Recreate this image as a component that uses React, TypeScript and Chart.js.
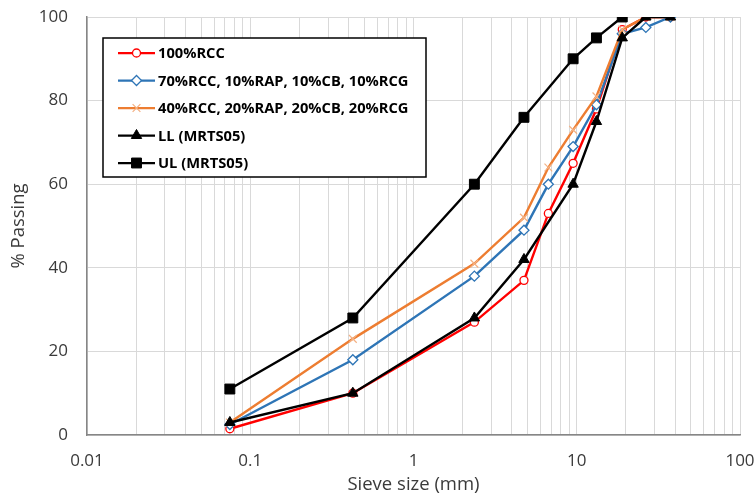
import React, { useEffect, useRef } from 'react';
import { Chart, registerables } from 'chart.js';
import { drawPoint } from 'chart.js/helpers';

Chart.register(...registerables);

const seriesLabels = [
  '100%RCC',
  '70%RCC, 10%RAP, 10%CB, 10%RCG',
  '40%RCC, 20%RAP, 20%CB, 20%RCG',
  'LL (MRTS05)',
  'UL (MRTS05)',
];
const mixSieves = [0.075, 0.425, 2.36, 4.75, 6.7, 9.5, 13.2, 19, 26.5, 37.5];
const rcc100 = [1.5, 10, 27, 37, 53, 65, 78, 97, 100, 100];
const rcc70 = [2.5, 18, 38, 49, 60, 69, 79, 96, 97.5, 100];
const rcc40 = [3, 23, 41, 52, 64, 73, 81, 97, 100, 100];
const llSieves = [0.075, 0.425, 2.36, 4.75, 9.5, 13.2, 19, 26.5, 37.5];
const llValues = [3, 10, 28, 42, 60, 75, 95, 100, 100];
const ulSieves = [0.075, 0.425, 2.36, 4.75, 9.5, 13.2, 19];
const ulValues = [11, 28, 60, 76, 90, 95, 100];
const xDecades = [0.01, 0.1, 1, 10, 100];
const xDecadeLabels = ['0.01', '0.1', '1', '10', '100'];
const xMinorMultipliers = [2, 3, 4, 5, 6, 7, 8, 9];
const yTicks = [0, 20, 40, 60, 80, 100];

const FONT = '"Open Sans", "Liberation Sans", sans-serif';
const TEXT = '#3A3A3A';
const GRID = '#D9D9D9';
const AXIS = '#868686';

const colors = ['#FF0000', '#2E75B6', '#ED7D31', '#000000', '#000000'];
const pointStyles = ['circle', 'rectRot', 'crossRot', 'triangle', 'rect'];
const pointRadii = [4, 5, 5.5, 6, 7];
const pointFills = ['#FFFFFF', '#FFFFFF', '#F4B183', '#000000', '#000000'];
const pointBorders = ['#FF0000', '#2E75B6', '#F4B183', '#000000', '#000000'];
const pointBorderWidths = [1.3, 1.3, 1.2, 1, 1];

function buildXTicks(): number[] {
  const out: number[] = [];
  xDecades.forEach((d, i) => {
    out.push(d);
    if (i < xDecades.length - 1) xMinorMultipliers.forEach((m) => out.push(+(m * d).toPrecision(6)));
  });
  return out;
}

const boxLegend = {
  id: 'boxLegend',
  afterDatasetsDraw(chart: any) {
    const ctx = chart.ctx as CanvasRenderingContext2D;
    const area = chart.chartArea;
    const left = area.left + 16;
    const top = area.top + 21;
    const w = 323;
    const h = 139;
    ctx.save();
    ctx.fillStyle = '#FFFFFF';
    ctx.fillRect(left, top, w, h);
    ctx.strokeStyle = '#000000';
    ctx.lineWidth = 1.5;
    ctx.strokeRect(left, top, w, h);
    seriesLabels.forEach((label, i) => {
      const y = top + 15 + i * 27.5;
      const x1 = left + 15;
      const x2 = left + 52;
      ctx.strokeStyle = colors[i];
      ctx.lineWidth = 2.25;
      ctx.beginPath();
      ctx.moveTo(x1, y);
      ctx.lineTo(x2, y);
      ctx.stroke();
      ctx.fillStyle = pointFills[i];
      ctx.strokeStyle = pointBorders[i];
      ctx.lineWidth = pointBorderWidths[i];
      drawPoint(ctx, { pointStyle: pointStyles[i], radius: pointRadii[i], rotation: 0, borderWidth: pointBorderWidths[i] } as any, (x1 + x2) / 2, y);
      ctx.fillStyle = '#000000';
      ctx.font = `bold 14.7px ${FONT}`;
      ctx.textBaseline = 'middle';
      ctx.textAlign = 'left';
      ctx.fillText(label, x2 + 3, y + 1);
    });
    ctx.restore();
  },
};

export default function App() {
  const ref = useRef<HTMLCanvasElement | null>(null);
  useEffect(() => {
    if (!ref.current) return;
    const xTicks = buildXTicks();
    const sets = [
      { x: mixSieves, y: rcc100 },
      { x: mixSieves, y: rcc70 },
      { x: mixSieves, y: rcc40 },
      { x: llSieves, y: llValues },
      { x: ulSieves, y: ulValues },
    ];
    const datasets = sets.map((s, i) => ({
      label: seriesLabels[i],
      data: s.x.map((xv, j) => ({ x: xv, y: s.y[j] })),
      borderColor: colors[i],
      borderWidth: 2.4,
      backgroundColor: colors[i],
      pointStyle: pointStyles[i],
      pointRadius: pointRadii[i],
      pointBackgroundColor: pointFills[i],
      pointBorderColor: pointBorders[i],
      pointBorderWidth: pointBorderWidths[i],
      tension: 0,
      fill: false,
      order: 5 - i,
    }));
    const chart = new Chart(ref.current, {
      type: 'line',
      data: { datasets },
      plugins: [boxLegend],
      options: {
        responsive: false,
        animation: false,
        devicePixelRatio: 1,
        layout: { padding: { top: 17, right: 16, left: 0, bottom: 0 } },
        plugins: { legend: { display: false }, tooltip: { enabled: false } },
        scales: {
          x: {
            type: 'logarithmic',
            min: 0.01,
            max: 100,
            afterBuildTicks: (scale: any) => {
              scale.ticks = xTicks.map((v) => ({ value: v }));
            },
            afterFit: (scale: any) => {
              scale.height = 61;
              scale.paddingLeft = 0;
              scale.paddingRight = 0;
            },
            ticks: {
              autoSkip: false,
              maxRotation: 0,
              padding: 16,
              color: TEXT,
              font: { family: FONT, size: 17 },
              callback: (value: any) => {
                const idx = xDecades.findIndex((d) => Math.abs(d - Number(value)) < d * 1e-6);
                return idx >= 0 ? xDecadeLabels[idx] : '';
              },
            },
            grid: { color: GRID, lineWidth: 1, drawTicks: false },
            border: { display: true, color: AXIS, width: 1.5 },
            title: {
              display: true,
              text: 'Sieve size (mm)',
              color: TEXT,
              font: { family: FONT, size: 18.5 },
              padding: { top: 0, bottom: 0 },
            },
          },
          y: {
            type: 'linear',
            min: 0,
            max: 100,
            afterBuildTicks: (scale: any) => {
              scale.ticks = yTicks.map((v) => ({ value: v }));
            },
            afterFit: (scale: any) => {
              scale.width = 87;
              scale.paddingTop = 0;
              scale.paddingBottom = 0;
            },
            ticks: {
              padding: 19,
              color: TEXT,
              font: { family: FONT, size: 17 },
            },
            grid: { color: GRID, lineWidth: 1, drawTicks: false },
            border: { display: true, color: AXIS, width: 1.5 },
            title: {
              display: true,
              text: '% Passing',
              color: TEXT,
              font: { family: FONT, size: 18.5 },
              padding: { top: 8, bottom: 0 },
            },
          },
        },
      } as any,
    });
    return () => chart.destroy();
  }, []);
  return (
    <div style={{ position: 'fixed', left: 0, top: 0, width: 756, height: 496, background: '#FFFFFF' }}>
      <canvas ref={ref} width={756} height={496} style={{ display: 'block' }} />
    </div>
  );
}
